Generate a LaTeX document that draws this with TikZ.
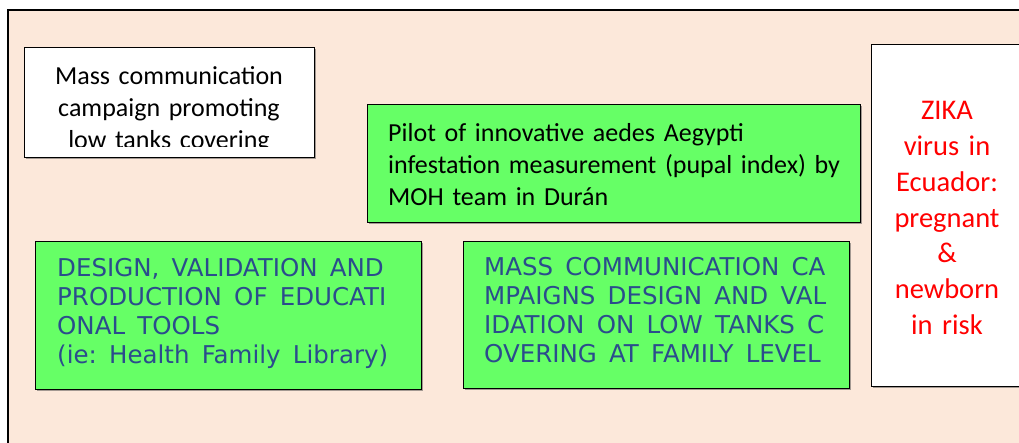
\documentclass[tikz,border=0pt]{standalone}
\usepackage{fontspec}
\setmainfont{Carlito}
\newfontfamily\capsfont{DejaVu Sans}
\usetikzlibrary{shadows}
\definecolor{peach}{RGB}{252,232,218}
\definecolor{boxgreen}{RGB}{102,255,102}
\definecolor{capblue}{RGB}{43,76,140}
\newcommand{\widesp}{\spaceskip=0.5em\relax\xspaceskip=0.5em\relax}
\begin{document}
\begin{tikzpicture}[x=1pt,y=-1pt,
  box/.style={draw=black, line width=1.4pt, inner sep=0pt, anchor=north west,
    drop shadow={shadow xshift=1.2pt, shadow yshift=-1.2pt, fill=black!70, opacity=0.5}},
  greenbox/.style={box, fill=boxgreen},
  whitebox/.style={box, fill=white},
  txt/.style={inner sep=0pt, font=\fontsize{26}{32}\selectfont},
  captxt/.style={inner sep=0pt, anchor=base west, align=left, text width=380pt,
    text=capblue, font=\capsfont\fontsize{24.5}{28.9}\selectfont},
  redtxt/.style={inner sep=0pt, anchor=base, align=center, text width=150pt,
    text=red, font=\fontsize{28.5}{35.7}\selectfont}]
\useasboundingbox (0,0) rectangle (1019,443);
\clip (0,0) rectangle (1019,443);
\fill[white] (0,0) rectangle (1019,443);
\draw[fill=peach, line width=1.4pt] (8,10) rectangle (1040,470);

% white box top left
\node[whitebox, minimum width=290pt, minimum height=110pt] (b1) at (24,47) {};
\begin{scope}
  \clip (24,47) rectangle (314,147);
  \node[txt, anchor=base, align=center, text width=288pt] (t1) at (169,85)
    {Mass communication\\campaign promoting\\low tanks covering};
\end{scope}

% pilot box
\node[greenbox, minimum width=493pt, minimum height=118pt] (b2) at (367,104) {};
\node[txt, anchor=base west, align=left, text width=470pt] (t2) at (388,142)
  {Pilot of innovative aedes Aegypti\\infestation measurement (pupal index) by\\MOH team in Durán};

% design box
\node[greenbox, minimum width=386pt, minimum height=148pt] (b3) at (35,241) {};
\node[captxt] (t3) at (57,277)
  {\widesp DESIGN, VALIDATION AND\\PRODUCTION OF EDUCATI\\ONAL TOOLS\\(ie: Health Family Library)};

% mass box
\node[greenbox, minimum width=386pt, minimum height=147pt] (b4) at (463,241) {};
\node[captxt] (t4) at (484,276)
  {\widesp MASS COMMUNICATION CA\\MPAIGNS DESIGN AND VAL\\IDATION ON LOW TANKS C\\OVERING AT FAMILY LEVEL};

% zika box
\node[whitebox, minimum width=170pt, minimum height=342pt] (b5) at (871,44) {};
\node[redtxt] (t5) at (947,120)
  {ZIKA\\virus in\\Ecuador:\\pregnant\\\&\\newborn\\in risk};
\end{tikzpicture}
\end{document}
